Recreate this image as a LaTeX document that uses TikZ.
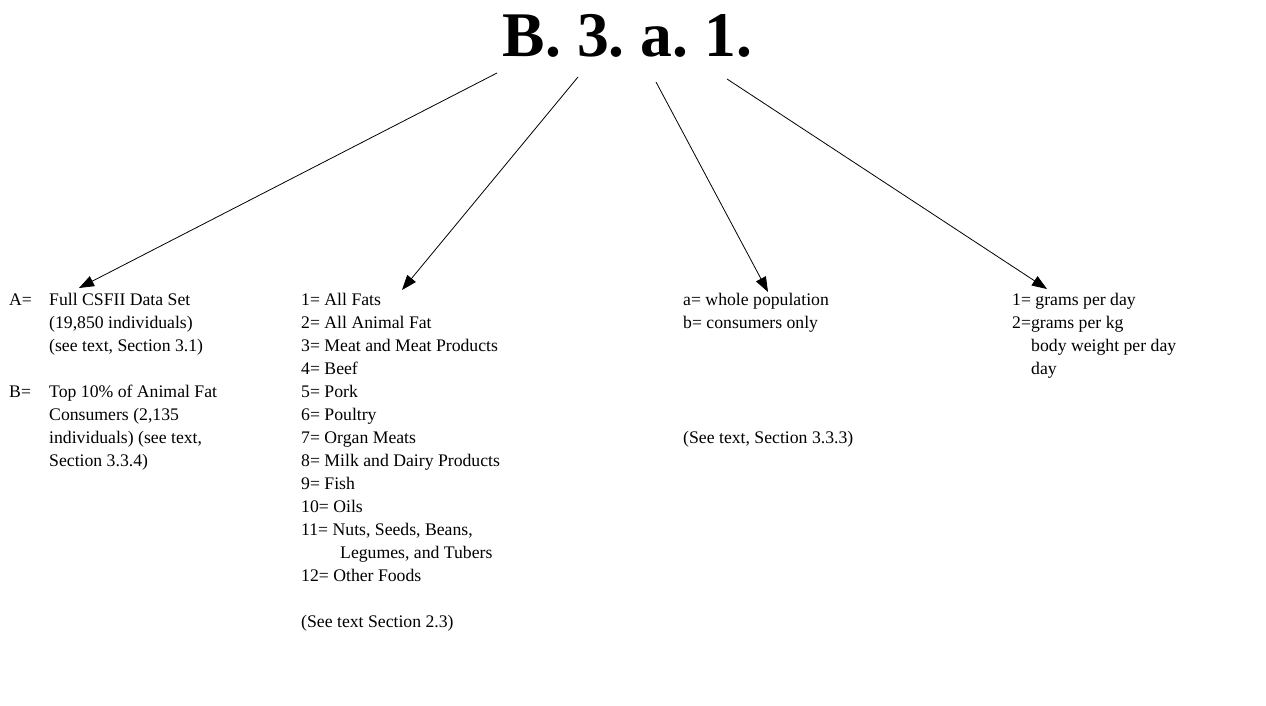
\documentclass[tikz,border=0pt]{standalone}
\usepackage{fontspec}
\setmainfont{Liberation Serif}
\usetikzlibrary{arrows.meta}
\frenchspacing
\tikzset{
  txt/.style={anchor=base west, inner sep=0pt, font=\fontsize{17.7}{23}\selectfont},
  ttl/.style={anchor=base, inner sep=0pt, font=\fontsize{63.6}{70}\selectfont\bfseries},
  arr/.style={-{Triangle[length=15pt,width=11pt]}, line width=0.8pt}
}
\begin{document}
\begin{tikzpicture}[x=1pt,y=-1pt]
\useasboundingbox (0,0) rectangle (1266,706);
\node[ttl] (title) at (627.5,57) {B. 3. a. 1.};
% column 1
\node[txt] (a1) at (9,305) {\makebox[40pt][l]{A=}Full CSFII Data Set};
\node[txt] (a2) at (49,328) {(19,850 individuals)};
\node[txt] (a3) at (49,351) {(see text, Section 3.1)};
\node[txt] (b1) at (9,397) {\makebox[40pt][l]{B=}Top 10\% of Animal Fat};
\node[txt] (b2) at (49,420) {Consumers (2,135};
\node[txt] (b3) at (49,443) {individuals) (see text,};
\node[txt] (b4) at (49,466) {Section 3.3.4)};
% column 2
\node[txt] (f1) at (301,305) {1= All Fats};
\node[txt] (f2) at (301,328) {2= All Animal Fat};
\node[txt] (f3) at (301,351) {3= Meat and Meat Products};
\node[txt] (f4) at (301,374) {4= Beef};
\node[txt] (f5) at (301,397) {5= Pork};
\node[txt] (f6) at (301,420) {6= Poultry};
\node[txt] (f7) at (301,443) {7= Organ Meats};
\node[txt] (f8) at (301,466) {8= Milk and Dairy Products};
\node[txt] (f9) at (301,489) {9= Fish};
\node[txt] (f10) at (301,512) {10= Oils};
\node[txt] (f11) at (301,535) {11= Nuts, Seeds, Beans,};
\node[txt] (f11b) at (340,558) {Legumes, and Tubers};
\node[txt] (f12) at (301,581) {12= Other Foods};
\node[txt] (fs) at (301,627) {(See text Section 2.3)};
% column 3
\node[txt] (p1) at (683,305) {a= whole population};
\node[txt] (p2) at (683,328) {b= consumers only};
\node[txt] (ps) at (683,443) {(See text, Section 3.3.3)};
% column 4
\node[txt] (u1) at (1012,305) {1= grams per day};
\node[txt] (u2) at (1012,328) {2=grams per kg};
\node[txt] (u3) at (1031,351) {body weight per day};
\node[txt] (u4) at (1031,374) {day};
% arrows
\coordinate (s1) at (497,73);
\coordinate (e1) at (79,288);
\coordinate (s2) at (578,77);
\coordinate (e2) at (402,290);
\coordinate (s3) at (656,82);
\coordinate (e3) at (768,292);
\coordinate (s4) at (727,79);
\coordinate (e4) at (1047,289);
\draw[arr] (s1) -- (e1);
\draw[arr] (s2) -- (e2);
\draw[arr] (s3) -- (e3);
\draw[arr] (s4) -- (e4);
\end{tikzpicture}
\end{document}
